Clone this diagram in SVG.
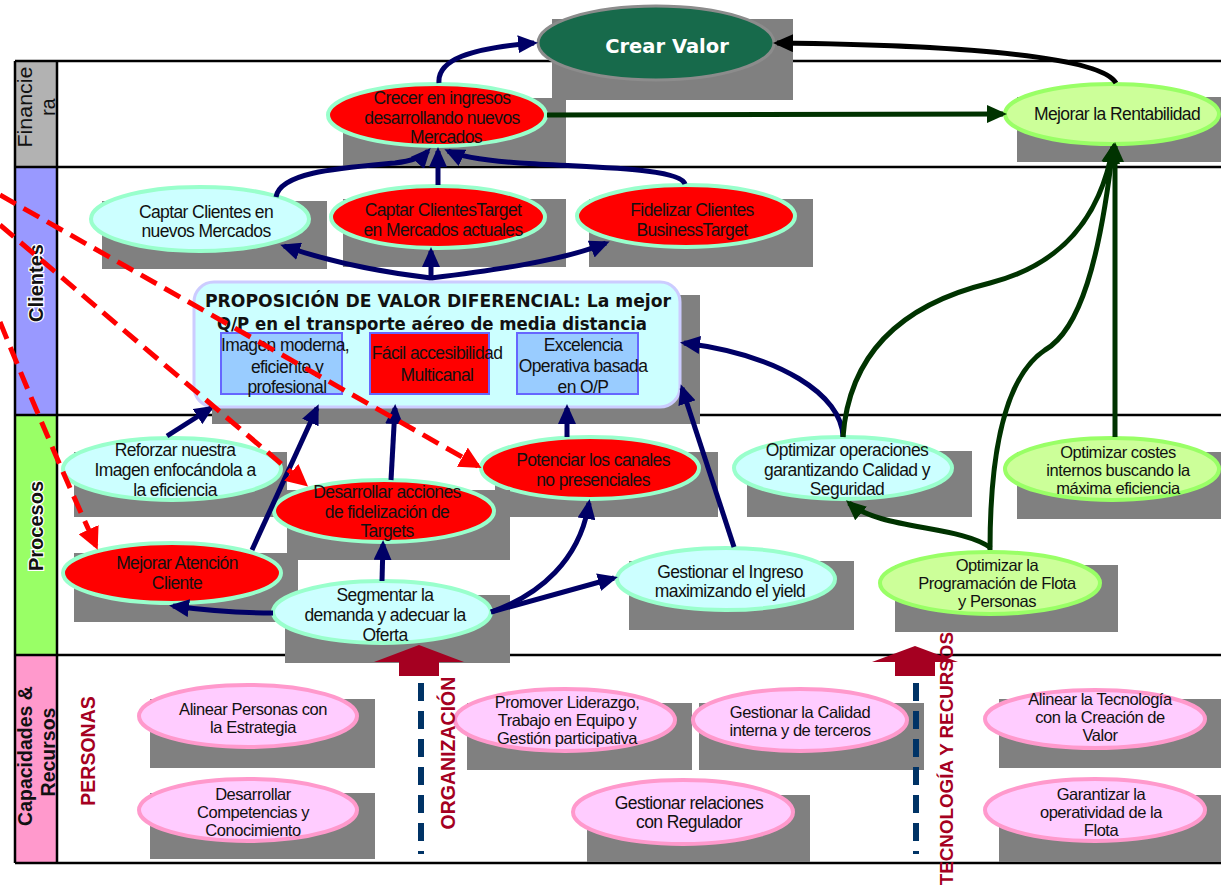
<svg xmlns="http://www.w3.org/2000/svg" width="1221" height="892" viewBox="0 0 1221 892">
<defs>
<style>
.sh{fill:#808080}
.red{fill:#ff0000;stroke:#99ffcc;stroke-width:4}
.cy{fill:#ccffff;stroke:#99ffcc;stroke-width:4}
.gr{fill:#ccff99;stroke:#99ff66;stroke-width:4}
.pk{fill:#ffccff;stroke:#ff99cc;stroke-width:4}
.t{font-family:"Liberation Sans",Arial,sans-serif;font-size:17.5px;letter-spacing:-0.6px;fill:#111;text-anchor:middle}
.ts{font-family:"Liberation Sans",Arial,sans-serif;font-size:16.5px;letter-spacing:-0.45px;fill:#111;text-anchor:middle}
.lab{font-family:"Liberation Sans",Arial,sans-serif;font-size:20px;font-weight:bold;fill:#111;text-anchor:middle;stroke:#fff;stroke-width:2.5px;paint-order:stroke}
.labc{font-family:"Liberation Sans",Arial,sans-serif;font-size:19.5px;font-weight:bold;fill:#111;text-anchor:middle}
.labn{font-family:"Liberation Sans",Arial,sans-serif;font-size:19.5px;fill:#111;text-anchor:middle}
.cap{font-family:"Liberation Sans",Arial,sans-serif;font-size:19.5px;font-weight:bold;fill:#a50021;text-anchor:middle}
.nv{fill:none;stroke:#000066;stroke-width:5;marker-end:url(#an)}
.gn{fill:none;stroke:#003300;stroke-width:5;marker-end:url(#ag)}
.bk{fill:none;stroke:#000;stroke-width:5;marker-end:url(#ab)}
.rd{fill:none;stroke:#ff0000;stroke-width:5;stroke-dasharray:18 9;marker-end:url(#ar)}
.ln{stroke:#000;stroke-width:2.5;fill:none}
.dv{stroke:#003366;stroke-width:6;stroke-dasharray:18 10;fill:none}
.blk{fill:#a50021}
.inb{stroke:#6666ff;stroke-width:2}
</style>
<marker id="an" markerUnits="userSpaceOnUse" viewBox="0 0 20 18" refX="16" refY="9" markerWidth="20" markerHeight="18" orient="auto"><path d="M0,0 L20,9 L0,18 z" fill="#000066"/></marker>
<marker id="ag" markerUnits="userSpaceOnUse" viewBox="0 0 20 18" refX="16" refY="9" markerWidth="20" markerHeight="18" orient="auto"><path d="M0,0 L20,9 L0,18 z" fill="#003300"/></marker>
<marker id="ab" markerUnits="userSpaceOnUse" viewBox="0 0 20 18" refX="16" refY="9" markerWidth="20" markerHeight="18" orient="auto"><path d="M0,0 L20,9 L0,18 z" fill="#000"/></marker>
<marker id="ar" markerUnits="userSpaceOnUse" viewBox="0 0 22 22" refX="18" refY="11" markerWidth="22" markerHeight="22" orient="auto"><path d="M0,0 L22,11 L0,22 z" fill="#ff0000"/></marker>
</defs>
<rect width="1221" height="892" fill="#fff"/>

<g id="frame">
<rect x="15" y="61" width="42" height="106" fill="#b2b2b2"/>
<rect x="15" y="167" width="42" height="248" fill="#9999ff"/>
<rect x="15" y="415" width="42" height="240" fill="#99ff66"/>
<rect x="15" y="655" width="42" height="208" fill="#ff99cc"/>
<path class="ln" d="M15,61 H1221 M15,167 H1221 M15,415 H1221 M15,655 H1221 M15,863 H1221 M15,61 V863 M57,61 V863"/>
<text class="labn" transform="translate(32,107) rotate(-90)" textLength="81" lengthAdjust="spacingAndGlyphs">Financie</text>
<text class="labn" transform="translate(55,107) rotate(-90)">ra</text>
<text class="lab" transform="translate(43,283) rotate(-90)">Clientes</text>
<text class="lab" transform="translate(43,526) rotate(-90)">Procesos</text>
<text class="labc" transform="translate(32,756) rotate(-90)">Capacidades &amp;</text>
<text class="labc" transform="translate(55,752) rotate(-90)">Recursos</text>
</g>

<g id="n-crear-valor">
<rect class="sh" x="552" y="19" width="241" height="81"/>
<ellipse cx="656" cy="43" rx="118" ry="37" fill="#176a4b" stroke="#8c8c8c" stroke-width="3"/>
<text x="667" y="53" style="font-family:'DejaVu Sans',Verdana,sans-serif;font-size:19.5px;font-weight:bold;fill:#fff;text-anchor:middle">Crear Valor</text>
</g>

<g id="n-crecer">
<rect class="sh" x="343" y="98" width="223" height="68"/>
<ellipse class="red" cx="437" cy="115" rx="109" ry="31"/>
<text class="t" x="442" y="104">Crecer en ingresos</text>
<text class="t" x="442" y="124">desarrollando nuevos</text>
<text class="t" x="446" y="143">Mercados</text>
</g>

<g id="n-rentabilidad">
<rect class="sh" x="1017" y="97" width="204" height="65"/>
<ellipse class="gr" cx="1112" cy="114" rx="107" ry="30"/>
<text class="t" x="1117" y="120">Mejorar la Rentabilidad</text>
</g>

<g id="n-captar-nuevos">
<rect class="sh" x="102" y="201" width="225" height="68"/>
<ellipse class="cy" cx="200" cy="219" rx="109" ry="32"/>
<text class="t" x="206" y="218">Captar Clientes en</text>
<text class="t" x="206" y="237">nuevos Mercados</text>
</g>

<g id="n-captar-target">
<rect class="sh" x="343" y="199" width="223" height="68"/>
<ellipse class="red" cx="438" cy="217" rx="107" ry="31"/>
<text class="t" x="443" y="216">Captar ClientesTarget</text>
<text class="t" x="443" y="236">en Mercados actuales</text>
</g>

<g id="n-fidelizar">
<rect class="sh" x="589" y="199" width="224" height="68"/>
<ellipse class="red" cx="686" cy="216" rx="109" ry="31"/>
<text class="t" x="692" y="216">Fidelizar Clientes</text>
<text class="t" x="692" y="236">BusinessTarget</text>
</g>

<g id="n-propuesta">
<rect class="sh" x="212" y="295" width="488" height="129"/>
<rect x="194" y="282" width="486" height="125" rx="20" ry="20" fill="#ccffff" stroke="#ccccff" stroke-width="3"/>
<text x="438" y="307" textLength="466" lengthAdjust="spacingAndGlyphs" style="font-family:'DejaVu Sans',Verdana,sans-serif;font-size:17px;font-weight:bold;fill:#111;text-anchor:middle">PROPOSICIÓN DE VALOR DIFERENCIAL: La mejor</text>
<text x="432" y="330" textLength="430" lengthAdjust="spacingAndGlyphs" style="font-family:'DejaVu Sans',Verdana,sans-serif;font-size:17px;font-weight:bold;fill:#111;text-anchor:middle">Q/P en el transporte aéreo de media distancia</text>
<rect class="inb" x="221" y="333" width="121" height="61" fill="#99ccff"/>
<text class="t" x="285" y="351">Imagen moderna,</text>
<text class="t" x="287" y="373">eficiente y</text>
<text class="t" x="287" y="393">profesional</text>
<rect class="inb" x="370" y="333" width="119" height="61" fill="#ff0000"/>
<text class="t" x="437" y="359">Fácil accesibilidad</text>
<text class="t" x="437" y="381">Multicanal</text>
<rect class="inb" x="517" y="333" width="121" height="61" fill="#99ccff"/>
<text class="t" x="583" y="351">Excelencia</text>
<text class="t" x="583" y="372">Operativa basada</text>
<text class="t" x="583" y="393">en O/P</text>
</g>

<g id="n-reforzar">
<rect class="sh" x="74" y="452" width="213" height="65"/>
<ellipse class="cy" cx="172" cy="469" rx="109" ry="31"/>
<text class="t" x="175" y="456">Reforzar nuestra</text>
<text class="t" x="175" y="476">Imagen enfocándola a</text>
<text class="t" x="175" y="496">la eficiencia</text>
</g>

<g id="n-potenciar">
<rect class="sh" x="495" y="452" width="223" height="65"/>
<ellipse class="red" cx="590" cy="468" rx="109" ry="31"/>
<text class="t" x="593" y="466">Potenciar los canales</text>
<text class="t" x="593" y="486">no presenciales</text>
</g>

<g id="n-desarrollar-fidelizacion">
<rect class="sh" x="287" y="490" width="223" height="70"/>
<ellipse class="red" cx="384" cy="511" rx="110" ry="31"/>
<text class="t" x="387" y="498">Desarrollar acciones</text>
<text class="t" x="387" y="518">de fidelización de</text>
<text class="t" x="387" y="537">Targets</text>
</g>

<g id="n-optimizar-operaciones">
<rect class="sh" x="747" y="451" width="225" height="66"/>
<ellipse class="cy" cx="843" cy="468" rx="109" ry="31"/>
<text class="t" x="847" y="456">Optimizar operaciones</text>
<text class="t" x="847" y="476">garantizando Calidad y</text>
<text class="t" x="847" y="495">Seguridad</text>
</g>

<g id="n-optimizar-costes">
<rect class="sh" x="1017" y="452" width="204" height="67"/>
<ellipse class="gr" cx="1112" cy="469" rx="107" ry="31"/>
<text class="ts" x="1118" y="458">Optimizar costes</text>
<text class="ts" x="1118" y="476">internos buscando la</text>
<text class="ts" x="1118" y="494">máxima eficiencia</text>
</g>

<g id="n-mejorar-atencion">
<rect class="sh" x="74" y="553" width="224" height="69"/>
<ellipse class="red" cx="172" cy="573" rx="109" ry="30"/>
<text class="t" x="177" y="569">Mejorar Atención</text>
<text class="t" x="177" y="589">Cliente</text>
</g>

<g id="n-segmentar">
<rect class="sh" x="285" y="595" width="225" height="68"/>
<ellipse class="cy" cx="382" cy="612" rx="109" ry="31"/>
<text class="t" x="385" y="601">Segmentar la</text>
<text class="t" x="385" y="621">demanda y adecuar la</text>
<text class="t" x="385" y="641">Oferta</text>
</g>

<g id="n-gestionar-ingreso">
<rect class="sh" x="629" y="561" width="225" height="69"/>
<ellipse class="cy" cx="726" cy="579" rx="109" ry="31"/>
<text class="t" x="730" y="578">Gestionar el Ingreso</text>
<text class="t" x="730" y="597">maximizando el yield</text>
</g>

<g id="n-programacion">
<rect class="sh" x="895" y="565" width="223" height="67"/>
<ellipse class="gr" cx="990" cy="583" rx="110" ry="31"/>
<text class="ts" x="997" y="571">Optimizar la</text>
<text class="ts" x="997" y="589">Programación de Flota</text>
<text class="ts" x="997" y="607">y Personas</text>
</g>

<g id="n-alinear-personas">
<rect class="sh" x="150" y="699" width="225" height="69"/>
<ellipse class="pk" cx="248" cy="716" rx="109" ry="31"/>
<text class="ts" x="253" y="715">Alinear Personas con</text>
<text class="ts" x="253" y="733">la Estrategia</text>
</g>

<g id="n-competencias">
<rect class="sh" x="150" y="793" width="225" height="66"/>
<ellipse class="pk" cx="248" cy="810" rx="109" ry="31"/>
<text class="ts" x="253" y="800">Desarrollar</text>
<text class="ts" x="253" y="818">Competencias y</text>
<text class="ts" x="253" y="836">Conocimiento</text>
</g>

<g id="n-liderazgo">
<rect class="sh" x="467" y="703" width="225" height="67"/>
<ellipse class="pk" cx="565" cy="720" rx="110" ry="31"/>
<text class="ts" x="567" y="708">Promover Liderazgo,</text>
<text class="ts" x="567" y="726">Trabajo en Equipo y</text>
<text class="ts" x="567" y="744">Gestión participativa</text>
</g>

<g id="n-calidad">
<rect class="sh" x="699" y="703" width="225" height="67"/>
<ellipse class="pk" cx="800" cy="720" rx="107" ry="31"/>
<text class="ts" x="800" y="718">Gestionar la Calidad</text>
<text class="ts" x="800" y="736">interna y de terceros</text>
</g>

<g id="n-regulador">
<rect class="sh" x="587" y="795" width="223" height="67"/>
<ellipse class="pk" cx="683" cy="812" rx="110" ry="32"/>
<text class="t" x="689" y="809">Gestionar relaciones</text>
<text class="t" x="689" y="828">con Regulador</text>
</g>

<g id="n-tecnologia">
<rect class="sh" x="999" y="699" width="222" height="69"/>
<ellipse class="pk" cx="1095" cy="719" rx="110" ry="29"/>
<text class="ts" x="1100" y="705">Alinear la Tecnología</text>
<text class="ts" x="1100" y="723">con la Creación de</text>
<text class="ts" x="1100" y="741">Valor</text>
</g>

<g id="n-flota">
<rect class="sh" x="999" y="795" width="222" height="67"/>
<ellipse class="pk" cx="1095" cy="810" rx="110" ry="31"/>
<text class="ts" x="1101" y="800">Garantizar la</text>
<text class="ts" x="1101" y="818">operatividad de la</text>
<text class="ts" x="1101" y="836">Flota</text>
</g>

<g id="capacidades-labels">
<polygon class="blk" points="419,645 464,662 439,662 439,676 399,676 399,662 374,662"/>
<polygon class="blk" points="915,646 958,662 935,662 935,676 895,676 895,662 872,662"/>
<path class="dv" d="M421,683 V854 M916,683 V854"/>
<text class="cap" transform="translate(95,751) rotate(-90)">PERSONAS</text>
<text class="cap" transform="translate(455,753) rotate(-90)">ORGANIZACIÓN</text>
<text class="cap" transform="translate(953,632) rotate(-90)" style="text-anchor:end;font-size:18.8px">TECNOLOGÍA Y RECURSOS</text>
</g>

<g id="connectors">
<path class="nv" d="M439,83 C437,60 470,48 534,43"/>
<path class="nv" d="M276,197 C280,172 340,168 395,163 Q420,160 428,151"/>
<path class="nv" d="M438,185 L438,151"/>
<path class="nv" d="M685,184 C680,168 600,168 520,163 Q465,159 448,151"/>
<path class="nv" d="M431,280 L431,251"/>
<path class="nv" d="M431,278 C380,272 330,262 284,246"/>
<path class="nv" d="M431,278 C480,272 560,262 606,243"/>
<path class="nv" d="M167,436 L211,408"/>
<path class="nv" d="M252,550 L317,408"/>
<path class="nv" d="M391,480 L395,408"/>
<path class="nv" d="M567,437 L567,408"/>
<path class="nv" d="M734,547 L682,388"/>
<path class="nv" d="M843,437 C842,395 780,355 684,343"/>
<path class="nv" d="M382,581 L383,544"/>
<path class="nv" d="M273,613 C240,613 210,611 173,606"/>
<path class="nv" d="M491,612 C540,595 580,560 589,503"/>
<path class="nv" d="M491,612 L614,578"/>
<path class="gn" d="M547,115 L1003,114"/>
<path class="bk" d="M1116,83 C1100,55 950,45 777,43"/>
<path class="gn" d="M1115,437 L1115,146"/>
<path class="gn" d="M843,437 C850,340 920,300 990,283 C1060,265 1100,220 1113,147"/>
<path class="gn" d="M990,550 C990,470 1000,380 1045,350 C1080,330 1100,260 1113,147"/>
<path class="gn" d="M991,548 C960,525 880,530 849,503"/>
<path class="rd" d="M0,195 L478,466"/>
<path class="rd" d="M0,225 L305,484"/>
<path class="rd" d="M0,322 Q50,445 96,546"/>
</g>
</svg>
